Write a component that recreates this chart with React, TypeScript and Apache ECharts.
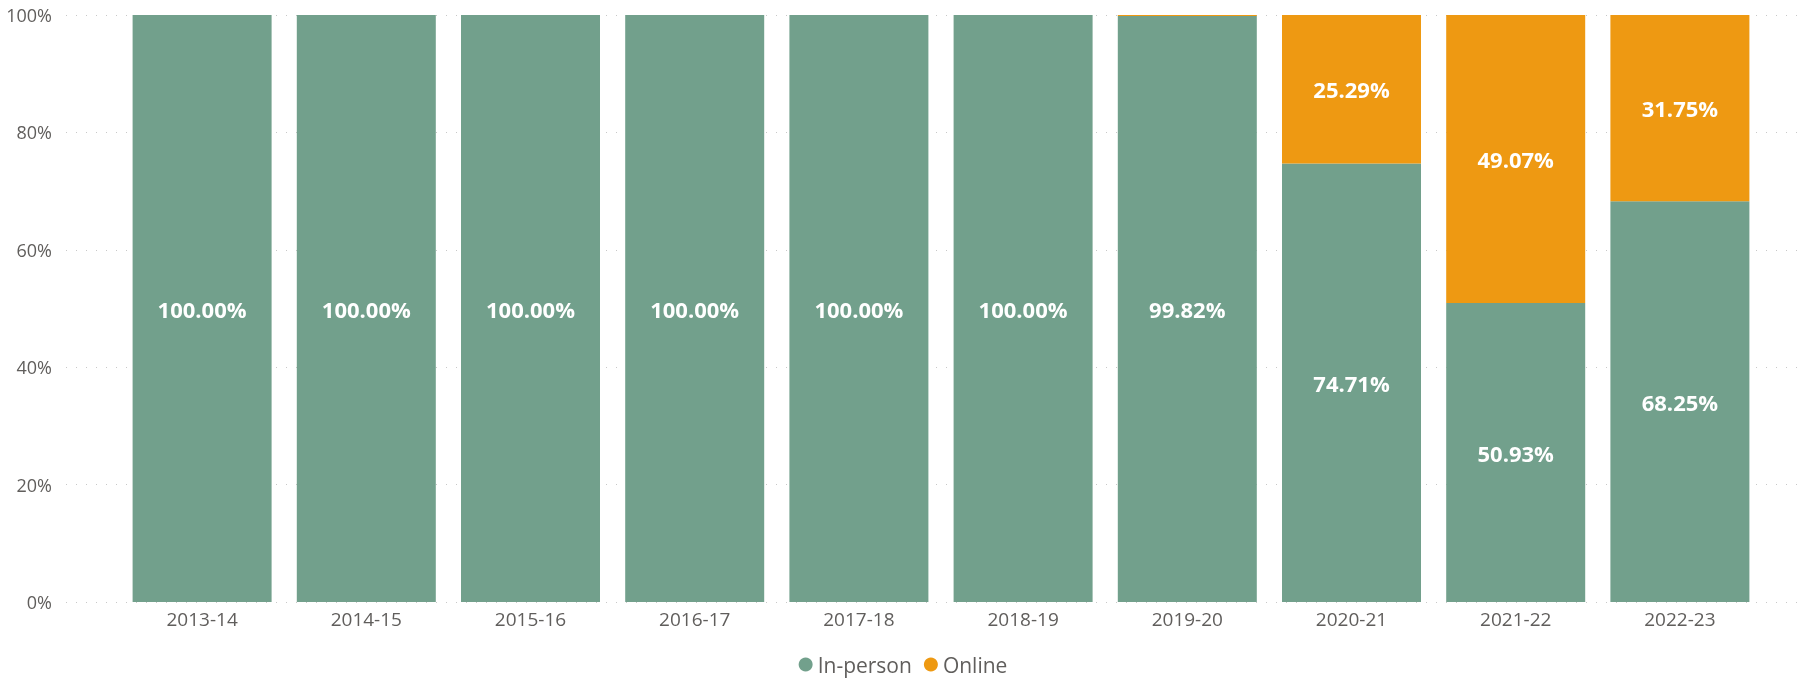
import React, { useEffect, useRef } from "react";
import * as echarts from "echarts";

const categories = ["2013-14", "2014-15", "2015-16", "2016-17", "2017-18", "2018-19", "2019-20", "2020-21", "2021-22", "2022-23"];
const inPerson = [100, 100, 100, 100, 100, 100, 99.82, 74.71, 50.93, 68.25];
const online = [0, 0, 0, 0, 0, 0, 0.18, 25.29, 49.07, 31.75];
const yTicks = [0, 20, 40, 60, 80, 100];

const GREEN = "#72A08C";
const ORANGE = "#EE9912";
const TEXT = "#605E5C";
const FONT = "'Open Sans', 'Noto Sans', sans-serif";

export default function App() {
  const ref = useRef<HTMLDivElement>(null);
  useEffect(() => {
    if (!ref.current) return;
    const chart = echarts.init(ref.current, undefined, { renderer: "svg" });
    const label = (show: boolean) => ({
      show,
      position: "inside",
      color: "#ffffff",
      fontWeight: "bold",
      fontSize: 22,
      fontFamily: FONT,
      formatter: (p: any) => (p.value >= 1 ? p.value.toFixed(2) + "%" : ""),
    });
    chart.setOption({
      animation: false,
      textStyle: { fontFamily: FONT },
      legend: {
        data: [
          { name: "In-person", icon: "circle" },
          { name: "Online", icon: "circle" },
        ],
        left: "center",
        top: 649,
        itemWidth: 14,
        itemHeight: 14,
        itemGap: 12,
        textStyle: { fontSize: 21, color: TEXT, fontFamily: FONT },
      },
      grid: [
        { left: 66, right: 4, top: 15, bottom: 77 },
        { left: 120, right: 44, top: 15, bottom: 77 },
      ],
      xAxis: [
        { gridIndex: 0, type: "category", data: categories, show: false },
        {
          gridIndex: 1,
          type: "category",
          data: categories,
          axisLine: { show: false },
          axisTick: { show: false },
          axisLabel: { color: TEXT, fontSize: 19, margin: 7, fontFamily: FONT },
        },
      ],
      yAxis: [
        {
          gridIndex: 0,
          type: "value",
          min: yTicks[0],
          max: yTicks[yTicks.length - 1],
          interval: 20,
          axisLine: { show: false },
          axisTick: { show: false },
          axisLabel: { color: TEXT, fontSize: 18, margin: 14, formatter: "{value}%", fontFamily: FONT },
          splitLine: { show: true, lineStyle: { color: "#C8C8C8", type: [1, 9], width: 1 } },
        },
        {
          gridIndex: 1,
          type: "value",
          min: 0,
          max: 100,
          interval: 20,
          show: false,
          splitLine: { show: false },
        },
      ],
      series: [
        {
          name: "In-person",
          type: "bar",
          stack: "total",
          xAxisIndex: 1,
          yAxisIndex: 1,
          data: inPerson,
          barWidth: 139,
          itemStyle: { color: GREEN },
          label: label(true),
        },
        {
          name: "Online",
          type: "bar",
          stack: "total",
          xAxisIndex: 1,
          yAxisIndex: 1,
          data: online,
          barWidth: 139,
          itemStyle: { color: ORANGE },
          label: label(true),
        },
      ],
    });
    return () => chart.dispose();
  }, []);
  return <div ref={ref} style={{ position: "fixed", left: 0, top: 0, width: 1806, height: 679 }} />;
}
